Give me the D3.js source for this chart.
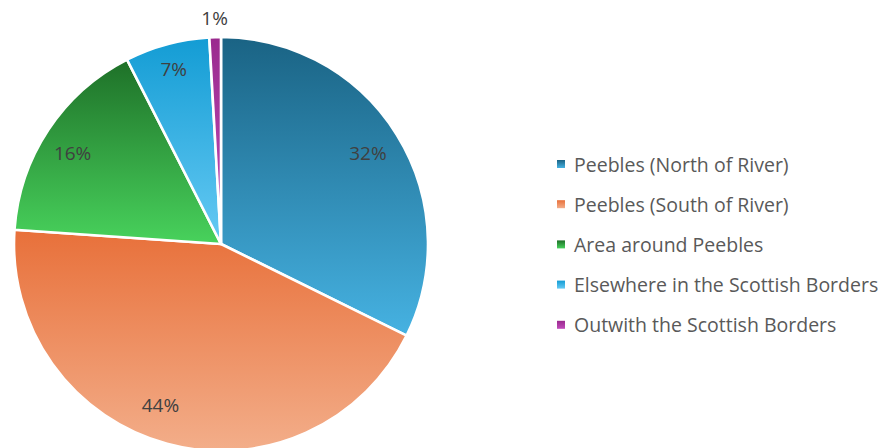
<!DOCTYPE html>
<html><head><meta charset="utf-8">
<script src="https://cdn.jsdelivr.net/npm/d3@7"></script>
<style>html,body{margin:0;padding:0;background:#fff;}svg{display:block;}</style>
</head><body>
<svg id="chart" width="878" height="448"></svg>
<script>
const categories = ["Peebles (North of River)","Peebles (South of River)","Area around Peebles","Elsewhere in the Scottish Borders","Outwith the Scottish Borders"];
const values = [32.3, 43.8, 16.4, 6.6, 0.9];
const colorTop = ["#1a6384","#e8703a","#1e7028","#139cd4","#9a2a8e"];
const colorBottom = ["#46b2e2","#f3ae8a","#48d25c","#66caf4","#c04cba"];

const svg = d3.select("#chart");
const cx = 221, cy = 244, R = 207;
const defs = svg.append("defs");

const pie = d3.pie().sort(null).value(d => d)(values);
const arc = d3.arc().innerRadius(0).outerRadius(R);

pie.forEach((p, i) => {
  const ys = [0];
  const n = 60;
  for (let k = 0; k <= n; k++) {
    const a = p.startAngle + (p.endAngle - p.startAngle) * k / n;
    ys.push(-R*Math.cos(a));
  }
  const y0 = d3.min(ys), y1 = d3.max(ys);
  const g = defs.append("linearGradient").attr("id","g"+i)
    .attr("gradientUnits","userSpaceOnUse")
    .attr("x1",0).attr("x2",0).attr("y1",y0).attr("y2",y1);
  g.append("stop").attr("offset","0%").attr("stop-color",colorTop[i]);
  g.append("stop").attr("offset","100%").attr("stop-color",colorBottom[i]);
  const lg = defs.append("linearGradient").attr("id","lg"+i)
    .attr("x1",0).attr("x2",0).attr("y1",0).attr("y2",1);
  lg.append("stop").attr("offset","0%").attr("stop-color",colorTop[i]);
  lg.append("stop").attr("offset","100%").attr("stop-color",colorBottom[i]);
});

const gPie = svg.append("g").attr("transform",`translate(${cx},${cy})`);
gPie.selectAll("path").data(pie).join("path")
  .attr("d", arc)
  .attr("fill", (d,i) => `url(#g${i})`)
  .attr("stroke","#fff").attr("stroke-width",2.6).attr("stroke-linejoin","round");

const labelR = [173, 172, 174, 181, 226];
const labelShift = [0, 5.5, -2, 0, 0].map(d => d*Math.PI/180);
const angOf = (d,i) => (d.startAngle+d.endAngle)/2 + labelShift[i];
gPie.selectAll("text").data(pie).join("text")
  .attr("x", (d,i) => labelR[i]*Math.sin(angOf(d,i)))
  .attr("y", (d,i) => -labelR[i]*Math.cos(angOf(d,i)))
  .attr("text-anchor","middle").attr("dominant-baseline","central")
  .attr("font-family","'Open Sans', 'Liberation Sans', sans-serif")
  .attr("font-size",19).attr("fill","#404040")
  .text(d => Math.round(d.value) + "%");

const legend = svg.append("g").attr("transform","translate(557,164)");
const rows = legend.selectAll("g").data(categories).join("g")
  .attr("transform",(d,i)=>`translate(0,${i*40.2})`);
rows.append("rect").attr("x",0).attr("y",-4).attr("width",8).attr("height",8)
  .attr("fill",(d,i)=>`url(#lg${i})`);
rows.append("text").attr("x",17).attr("y",0).attr("dominant-baseline","central")
  .attr("font-family","'Open Sans', 'Liberation Sans', sans-serif")
  .attr("font-size",19.5).attr("fill","#595959").text(d=>d);
</script>
</body></html>
